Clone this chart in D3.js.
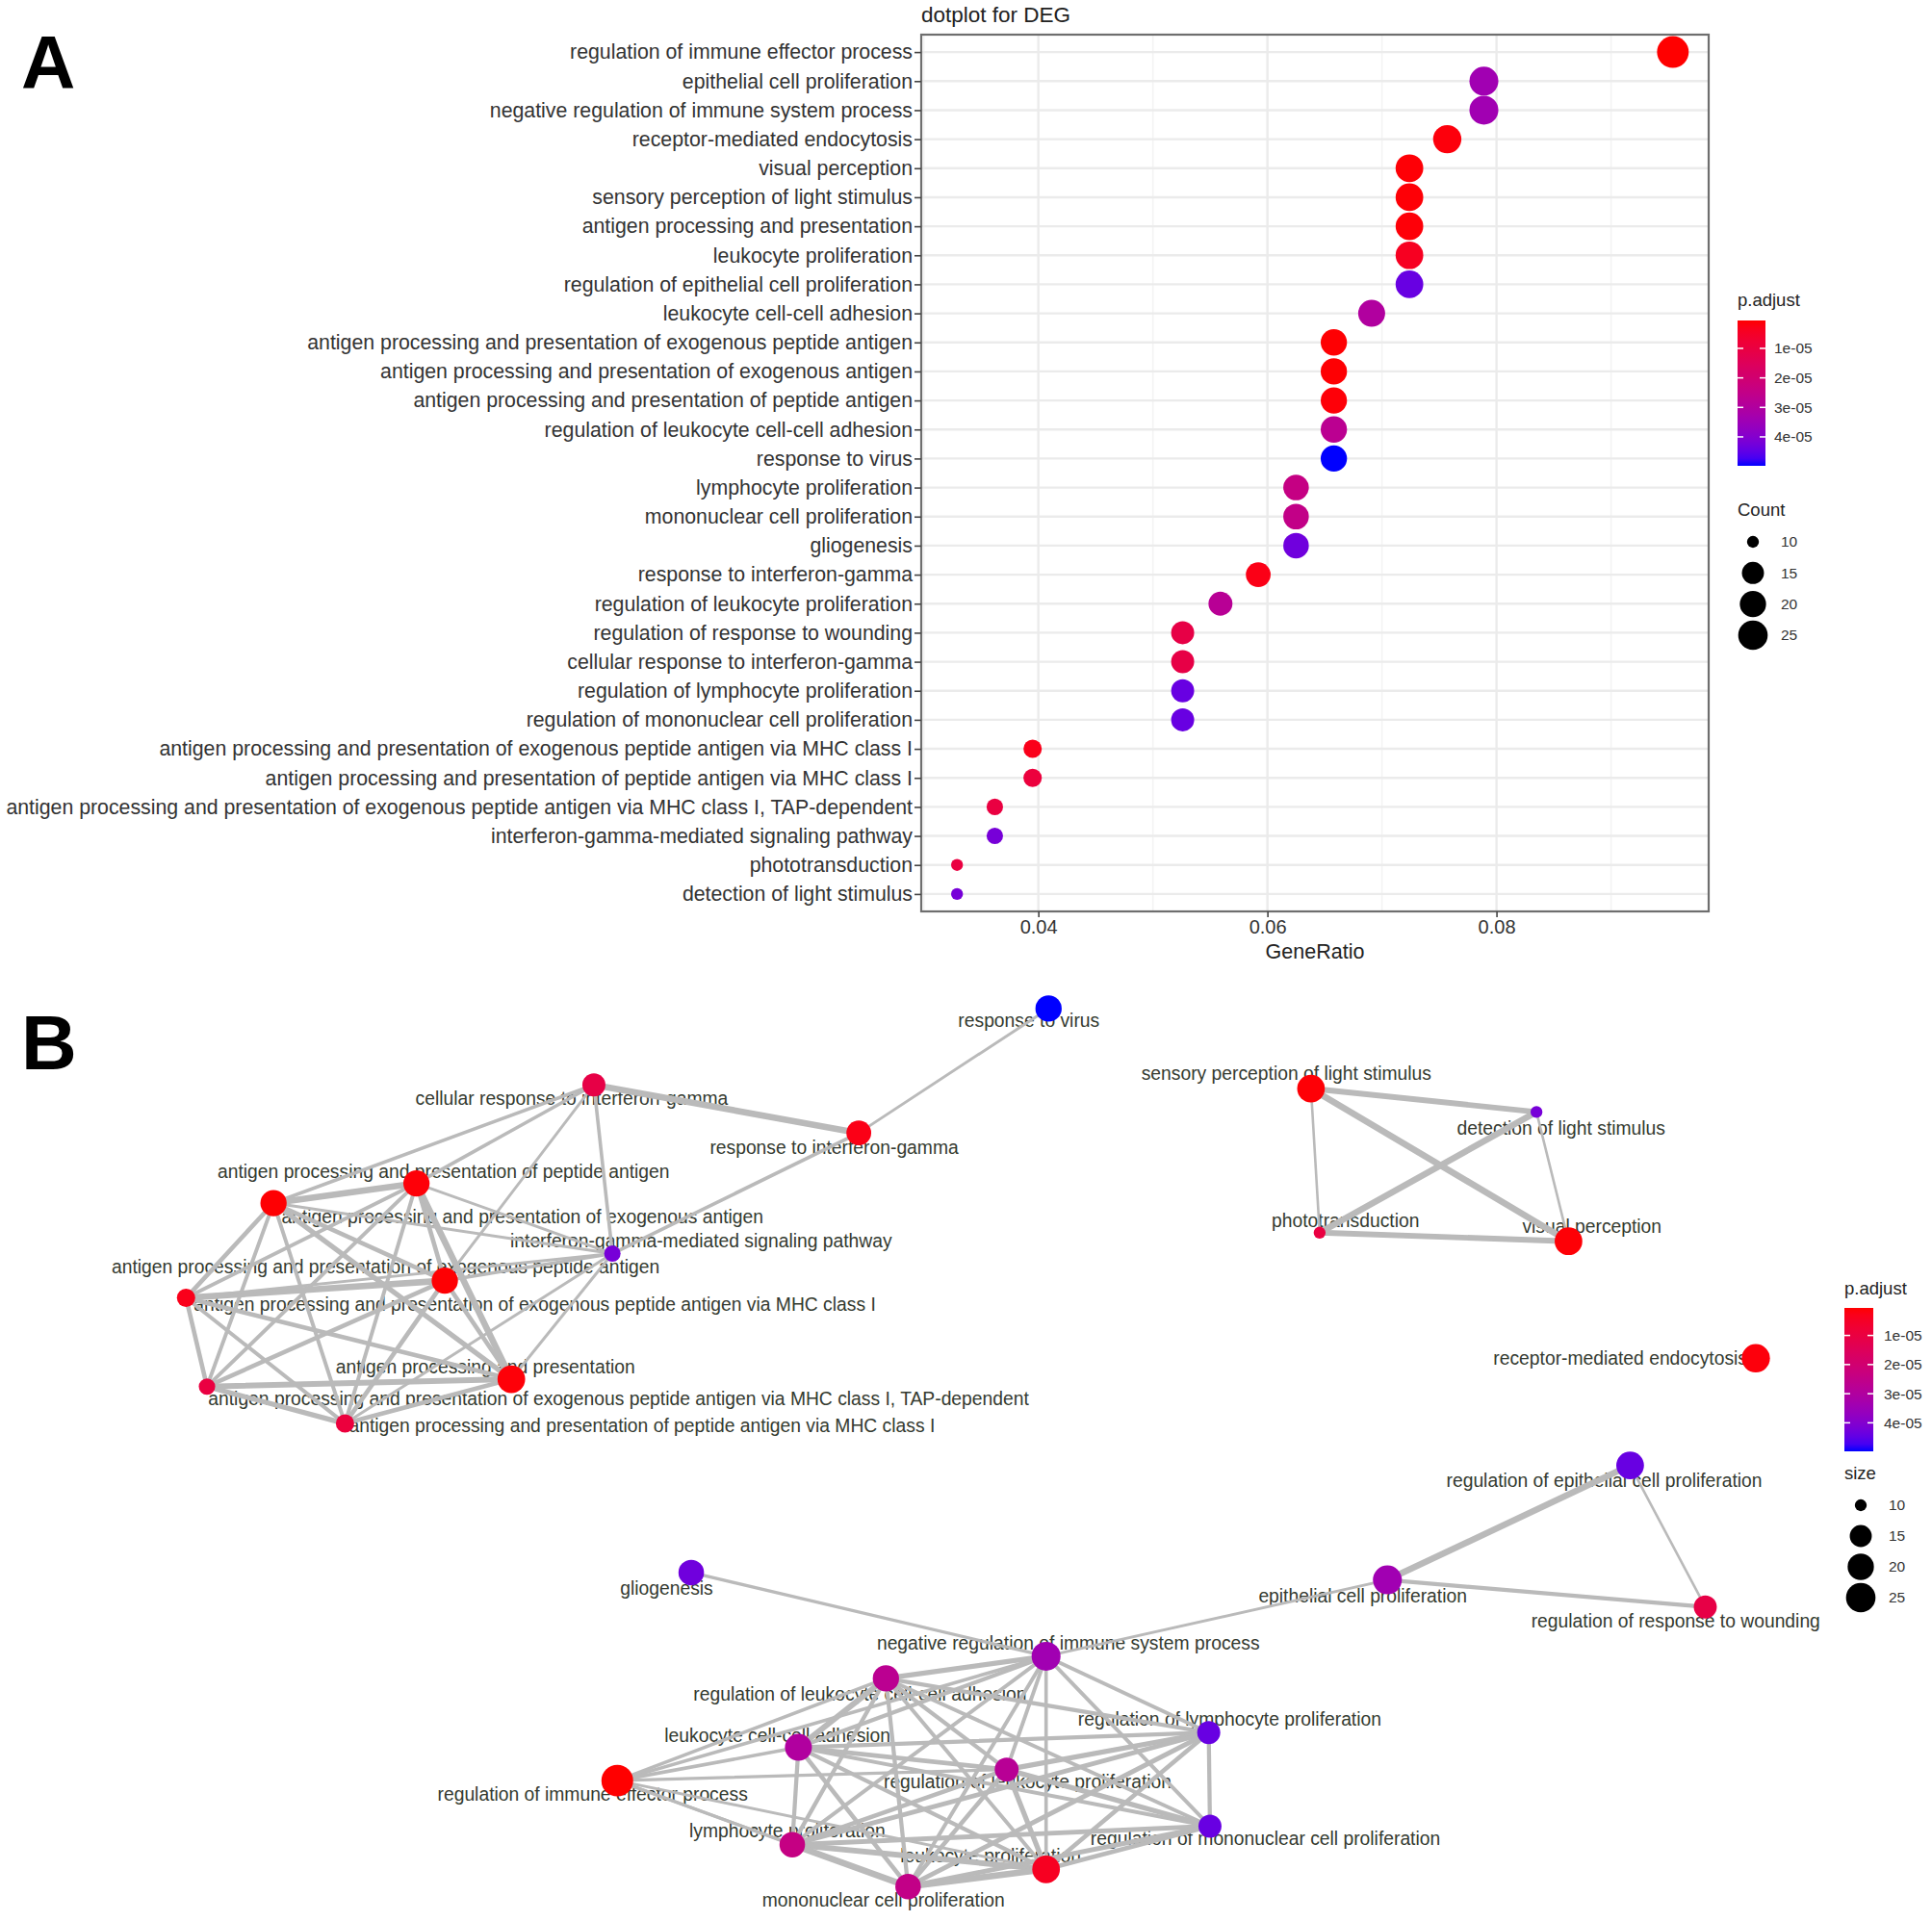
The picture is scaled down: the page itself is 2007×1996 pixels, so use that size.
<!DOCTYPE html>
<html>
<head>
<meta charset="utf-8">
<script src="https://cdn.jsdelivr.net/npm/d3@7"></script>
<style>
  html, body { margin: 0; padding: 0; background: #ffffff; }
  svg { display: block; }
  text { font-family: "Liberation Sans", Arial, sans-serif; }
</style>
</head>
<body>
<svg id="chart" width="2007" height="1996"></svg>
<script>
// ---------------- DATA ----------------
const terms = [
  "regulation of immune effector process",
  "epithelial cell proliferation",
  "negative regulation of immune system process",
  "receptor-mediated endocytosis",
  "visual perception",
  "sensory perception of light stimulus",
  "antigen processing and presentation",
  "leukocyte proliferation",
  "regulation of epithelial cell proliferation",
  "leukocyte cell-cell adhesion",
  "antigen processing and presentation of exogenous peptide antigen",
  "antigen processing and presentation of exogenous antigen",
  "antigen processing and presentation of peptide antigen",
  "regulation of leukocyte cell-cell adhesion",
  "response to virus",
  "lymphocyte proliferation",
  "mononuclear cell proliferation",
  "gliogenesis",
  "response to interferon-gamma",
  "regulation of leukocyte proliferation",
  "regulation of response to wounding",
  "cellular response to interferon-gamma",
  "regulation of lymphocyte proliferation",
  "regulation of mononuclear cell proliferation",
  "antigen processing and presentation of exogenous peptide antigen via MHC class I",
  "antigen processing and presentation of peptide antigen via MHC class I",
  "antigen processing and presentation of exogenous peptide antigen via MHC class I, TAP-dependent",
  "interferon-gamma-mediated signaling pathway",
  "phototransduction",
  "detection of light stimulus"
];
const geneRatio = [0.0954, 0.0789, 0.0789, 0.0757, 0.0724, 0.0724, 0.0724, 0.0724, 0.0724, 0.0691,
                   0.0658, 0.0658, 0.0658, 0.0658, 0.0658, 0.0625, 0.0625, 0.0625, 0.0592, 0.0559,
                   0.0526, 0.0526, 0.0526, 0.0526, 0.0395, 0.0395, 0.0362, 0.0362, 0.0329, 0.0329];
const counts = [29, 24, 24, 23, 22, 22, 22, 22, 22, 21,
                20, 20, 20, 20, 20, 19, 19, 19, 18, 17,
                16, 16, 16, 16, 12, 12, 11, 11, 10, 10];
const pAdjust = [5.5e-7, 3.4e-5, 3.4e-5, 1.5e-6, 1.0e-6, 1.0e-6, 1.2e-6, 4.0e-6, 4.4e-5, 3.0e-5,
                 8.0e-7, 8.0e-7, 1.2e-6, 2.7e-5, 4.98e-5, 2.4e-5, 2.5e-5, 4.3e-5, 2.5e-6, 2.8e-5,
                 1.1e-5, 1.1e-5, 4.4e-5, 4.4e-5, 3.0e-6, 9.0e-6, 1.0e-5, 4.2e-5, 1.0e-5, 4.2e-5];
const xTicks = [0.04, 0.06, 0.08];
const xMinorTicks = [0.03, 0.05, 0.07, 0.09];
const pTicks = [1e-5, 2e-5, 3e-5, 4e-5];
const pTickLabels = ["1e-05", "2e-05", "3e-05", "4e-05"];
const sizeBreaks = [10, 15, 20, 25];

// network (enrichment map) layout, per term, in layout units
const netX = [501, 1126, 849, 1425, 1273, 1064, 415, 849, 1323, 648,
              361, 222, 338, 719, 851, 643, 737, 561, 697, 817,
              1384, 482, 981, 982, 151, 280, 168, 497, 1071, 1247];
const netY = [1446, 1283, 1345, 1103, 1008, 884, 1120, 1518, 1190, 1419,
              1040, 977, 961, 1363, 819, 1498, 1532, 1277, 920, 1437,
              1305, 881, 1407, 1483, 1054, 1156, 1126, 1018, 1001, 903];
const labX = [481, 1106, 867, 1315, 1292, 1044, 394, 804, 1302, 631,
              313, 424, 360, 698, 835, 639, 717, 541, 677, 834,
              1360, 464, 998, 1027, 434, 521, 502, 569, 1092, 1267];
const labY = [1457, 1296, 1334, 1103, 996, 872, 1110, 1507, 1202, 1409,
              1029, 988, 951, 1376, 829, 1487, 1543, 1290, 932, 1447,
              1316, 892, 1396, 1493, 1059, 1158, 1136, 1008, 991, 916];
// edges: [term index, term index, similarity]
const edges = [
  [12,11,0.9],[12,10,0.6],[12,24,0.5],[12,6,0.9],[12,26,0.5],[12,25,0.5],
  [11,10,0.6],[11,24,0.6],[11,6,0.7],[11,26,0.5],[11,25,0.5],
  [10,24,0.9],[10,6,0.6],[10,26,0.6],[10,25,0.6],
  [24,6,0.6],[24,26,0.6],[24,25,0.5],
  [6,26,0.8],[6,25,0.6],[26,25,0.7],
  [27,12,0.35],[27,11,0.35],[27,10,0.45],[27,24,0.35],[27,6,0.35],[27,25,0.35],
  [21,18,0.9],[21,12,0.45],[21,11,0.45],[21,10,0.35],[21,27,0.45],
  [18,14,0.35],[18,27,0.45],
  [5,29,0.8],[5,28,0.3],[5,4,0.9],[29,28,0.9],[29,4,0.3],[28,4,0.8],
  [8,1,0.9],[8,20,0.3],[1,20,0.55],[1,2,0.35],[17,2,0.4],
  [2,13,0.7],[2,22,0.5],[2,9,0.55],[2,19,0.5],[2,23,0.5],[2,15,0.5],[2,7,0.45],[2,16,0.5],
  [13,22,0.55],[13,9,0.8],[13,19,0.55],[13,23,0.5],[13,15,0.55],[13,7,0.5],[13,16,0.55],
  [22,9,0.55],[22,19,0.7],[22,23,0.55],[22,15,0.65],[22,7,0.6],[22,16,0.65],
  [9,19,0.6],[9,23,0.5],[9,15,0.55],[9,7,0.55],[9,16,0.6],
  [19,23,0.7],[19,15,0.6],[19,7,0.7],[19,16,0.6],
  [23,15,0.65],[23,7,0.6],[23,16,0.65],
  [15,7,0.8],[15,16,0.9],[7,16,0.9],
  [0,2,0.45],[0,13,0.45],[0,9,0.45],[0,19,0.4],[0,15,0.4],[0,7,0.35],[0,16,0.35]
];

// ---------------- SETUP ----------------
const svg = d3.select("#chart");
svg.append("rect").attr("width", 2007).attr("height", 1996).attr("fill", "#ffffff");

const pExtent = d3.extent(pAdjust);
const color = d3.scaleLinear().domain(pExtent).range(["#ff0000", "#0000ff"]).interpolate(d3.interpolateLab);
const cExtent = d3.extent(counts);
const sizeUnit = d3.scaleLinear().domain([0, 1]).range([3, 8]);
const rPx = 2.06;
const radius = c => rPx * sizeUnit(Math.sqrt((c - cExtent[0]) / (cExtent[1] - cExtent[0])));

const textCol = "#333333";

// ---------------- PANEL A ----------------
svg.append("text").attr("x", 22).attr("y", 92).text("A")
  .attr("font-family", "'Open Sans', sans-serif").attr("font-weight", 700)
  .attr("font-size", 78).attr("fill", "#000");

const pL = 957, pR = 1775, pT = 36, pB = 947;
const gr = d3.extent(geneRatio);
const span = gr[1] - gr[0];
const x = d3.scaleLinear().domain([gr[0] - 0.05 * span, gr[1] + 0.05 * span]).range([pL, pR]);
const y = d3.scalePoint().domain(terms).range([pT, pB]).padding(0.6);

const gA = svg.append("g");
// grid
gA.selectAll("line.minor").data(xMinorTicks.filter(v => x(v) > pL && x(v) < pR)).enter().append("line")
  .attr("x1", d => x(d)).attr("x2", d => x(d)).attr("y1", pT).attr("y2", pB)
  .attr("stroke", "#f3f3f3").attr("stroke-width", 1.5);
gA.selectAll("line.hgrid").data(terms).enter().append("line")
  .attr("x1", pL).attr("x2", pR).attr("y1", d => y(d)).attr("y2", d => y(d))
  .attr("stroke", "#ebebeb").attr("stroke-width", 2.4);
gA.selectAll("line.vgrid").data(xTicks).enter().append("line")
  .attr("x1", d => x(d)).attr("x2", d => x(d)).attr("y1", pT).attr("y2", pB)
  .attr("stroke", "#ebebeb").attr("stroke-width", 2.4);

// dots
gA.selectAll("circle.dot").data(terms).enter().append("circle")
  .attr("cx", (d, i) => x(geneRatio[i])).attr("cy", d => y(d))
  .attr("r", (d, i) => radius(counts[i]))
  .attr("fill", (d, i) => color(pAdjust[i]));

// border
gA.append("rect").attr("x", pL).attr("y", pT).attr("width", pR - pL).attr("height", pB - pT)
  .attr("fill", "none").attr("stroke", "#6e6e6e").attr("stroke-width", 2.2);

// axes
const yAxis = gA.append("g").attr("transform", `translate(${pL},0)`)
  .call(d3.axisLeft(y).tickSize(7).tickPadding(2));
yAxis.select(".domain").remove();
yAxis.selectAll("line").attr("stroke", "#444").attr("stroke-width", 1.6);
yAxis.selectAll("text").attr("font-size", 21.3).attr("fill", textCol)
  .attr("font-family", "'Liberation Sans', Arial, sans-serif");

const xAxis = gA.append("g").attr("transform", `translate(0,${pB})`)
  .call(d3.axisBottom(x).tickValues(xTicks).tickFormat(d3.format(".2f")).tickSize(6).tickPadding(3));
xAxis.select(".domain").remove();
xAxis.selectAll("line").attr("stroke", "#444").attr("stroke-width", 1.6);
xAxis.selectAll("text").attr("font-size", 20).attr("fill", textCol)
  .attr("font-family", "'Liberation Sans', Arial, sans-serif");

gA.append("text").attr("x", (pL + pR) / 2).attr("y", 988).attr("dy", "0.35em")
  .attr("text-anchor", "middle").attr("font-size", 21.5).attr("fill", "#222").text("GeneRatio");
gA.append("text").attr("x", pL).attr("y", 15).attr("dy", "0.35em")
  .attr("font-size", 22.5).attr("fill", "#222").text("dotplot for DEG");

// ---------------- LEGENDS ----------------
const defs = svg.append("defs");
const grad = defs.append("linearGradient").attr("id", "pgrad").attr("x1", 0).attr("x2", 0).attr("y1", 0).attr("y2", 1);
d3.range(0, 1.0001, 0.05).forEach(t => {
  grad.append("stop").attr("offset", t).attr("stop-color", color(pExtent[0] + t * (pExtent[1] - pExtent[0])));
});

function legends(g, o) {
  g.append("text").attr("x", o.x).attr("y", o.titleY).attr("dy", "0.35em")
    .attr("font-size", 18.5).attr("fill", "#222").text("p.adjust");
  const cb = d3.scaleLinear().domain(pExtent).range([o.barTop, o.barBot]);
  g.append("rect").attr("x", o.x).attr("y", o.barTop).attr("width", o.barW).attr("height", o.barBot - o.barTop)
    .attr("fill", "url(#pgrad)");
  pTicks.forEach((v, i) => {
    g.append("line").attr("x1", o.x).attr("x2", o.x + 6).attr("y1", cb(v)).attr("y2", cb(v))
      .attr("stroke", "#fff").attr("stroke-width", 1.5);
    g.append("line").attr("x1", o.x + o.barW - 6).attr("x2", o.x + o.barW).attr("y1", cb(v)).attr("y2", cb(v))
      .attr("stroke", "#fff").attr("stroke-width", 1.5);
    g.append("text").attr("x", o.labX).attr("y", cb(v)).attr("dy", "0.35em")
      .attr("font-size", 15.5).attr("fill", textCol).text(pTickLabels[i]);
  });
  g.append("text").attr("x", o.x).attr("y", o.sizeTitleY).attr("dy", "0.35em")
    .attr("font-size", 18.5).attr("fill", "#222").text(o.sizeTitle);
  const ys = d3.scalePoint().domain(sizeBreaks).range([o.sizeTop, o.sizeBot]);
  sizeBreaks.forEach(v => {
    g.append("circle").attr("cx", o.dotX).attr("cy", ys(v)).attr("r", radius(v)).attr("fill", "#000");
    g.append("text").attr("x", o.sizeLabX).attr("y", ys(v)).attr("dy", "0.35em")
      .attr("font-size", 15.5).attr("fill", textCol).text(v);
  });
}
legends(svg.append("g"), {x: 1805, titleY: 312, barTop: 333, barBot: 484, barW: 29, labX: 1843,
  sizeTitle: "Count", sizeTitleY: 530, sizeTop: 563, sizeBot: 660, dotX: 1821, sizeLabX: 1850});

// ---------------- PANEL B ----------------
svg.append("text").attr("x", 22).attr("y", 1111).text("B")
  .attr("font-family", "'Open Sans', sans-serif").attr("font-weight", 700)
  .attr("font-size", 80).attr("fill", "#000");

const nx = d3.scaleLinear().domain([0, 1568]).range([0, 2007]);
const ny = d3.scaleLinear().domain([0, 1560]).range([0, 1996]);
const ew = d3.scaleLinear().domain([0.3, 0.9]).range([2.6, 6.6]);
const gB = svg.append("g");

gB.selectAll("text.nlab").data(terms).enter().append("text")
  .attr("x", (d, i) => nx(labX[i])).attr("y", (d, i) => ny(labY[i])).attr("dy", "0.35em")
  .attr("text-anchor", "middle").attr("font-size", 19.3).attr("fill", "#343a30").text(d => d);

gB.selectAll("line.edge").data(edges).enter().append("line")
  .attr("x1", d => nx(netX[d[0]])).attr("y1", d => ny(netY[d[0]]))
  .attr("x2", d => nx(netX[d[1]])).attr("y2", d => ny(netY[d[1]]))
  .attr("stroke", "#bababa").attr("stroke-width", d => ew(d[2])).attr("stroke-linecap", "round");

gB.selectAll("circle.node").data(terms).enter().append("circle")
  .attr("cx", (d, i) => nx(netX[i])).attr("cy", (d, i) => ny(netY[i]))
  .attr("r", (d, i) => radius(counts[i]))
  .attr("fill", (d, i) => color(pAdjust[i]));

legends(svg.append("g"), {x: 1916, titleY: 1339, barTop: 1359, barBot: 1508, barW: 30, labX: 1957,
  sizeTitle: "size", sizeTitleY: 1531, sizeTop: 1564, sizeBot: 1660, dotX: 1933, sizeLabX: 1962});
</script>
</body>
</html>
